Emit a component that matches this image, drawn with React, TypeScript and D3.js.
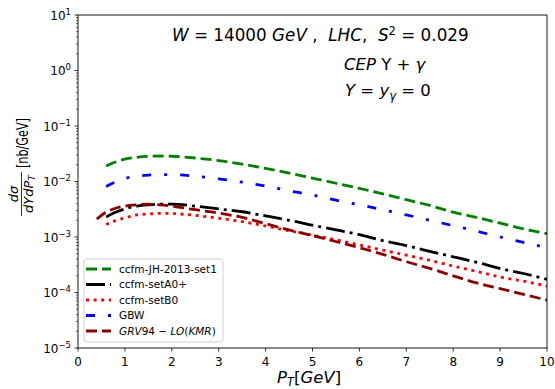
import React from "react";
import * as d3 from "d3";

const W = 555;
const H = 389;
const FONT = "DejaVu Sans, sans-serif";

// Data (P_T in GeV, dσ/dYdP_T in nb/GeV)
const ptMain = [0.6, 0.8, 1.0, 1.25, 1.5, 1.75, 2.0, 2.5, 3, 3.5, 4, 4.5, 5, 5.5, 6, 6.5, 7, 7.5, 8, 8.5, 9, 9.5, 10];
const ptGrv = [0.4, 0.6, 0.8, 1.0, 1.25, 1.5, 1.75, 2.0, 2.5, 3, 3.5, 4, 4.5, 5, 5.5, 6, 6.5, 7, 7.5, 8, 8.5, 9, 9.5, 10];

const jhSet1 = [0.019, 0.0225, 0.0252, 0.0273, 0.0285, 0.0288, 0.0285, 0.0265, 0.0238, 0.0205, 0.0172, 0.0142, 0.0115, 0.0093, 0.0075, 0.006, 0.0047, 0.0037, 0.0028, 0.00225, 0.00178, 0.0014, 0.00115];
const setA0 = [0.0023, 0.0028, 0.0032, 0.0036, 0.0038, 0.0039, 0.0039, 0.0036, 0.0032, 0.00285, 0.0024, 0.002, 0.00163, 0.00135, 0.0011, 0.00086, 0.0007, 0.00055, 0.00044, 0.00035, 0.00027, 0.00022, 0.000172];
const setB0 = [0.00168, 0.00197, 0.0022, 0.0025, 0.0026, 0.00267, 0.00265, 0.00245, 0.00218, 0.00189, 0.00158, 0.0013, 0.00108, 0.00089, 0.00072, 0.00058, 0.00047, 0.00038, 0.0003, 0.00024, 0.00019, 0.00016, 0.00013];
const gbw = [0.0081, 0.0098, 0.0113, 0.0124, 0.013, 0.0133, 0.0133, 0.0125, 0.0112, 0.0097, 0.0083, 0.0068, 0.0057, 0.0046, 0.0038, 0.0031, 0.0025, 0.002, 0.0016, 0.00127, 0.001, 0.0008, 0.00064];
const grv94 = [0.0021, 0.0028, 0.0033, 0.0036, 0.0038, 0.0039, 0.0038, 0.0036, 0.0031, 0.0027, 0.00225, 0.00174, 0.00134, 0.00106, 0.00083, 0.00064, 0.000487, 0.000359, 0.000272, 0.0002, 0.000149, 0.000117, 0.0000925, 0.000073];

const xTicks = [0, 1, 2, 3, 4, 5, 6, 7, 8, 9, 10];
const yExps = [-5, -4, -3, -2, -1, 0, 1];

const series = [
  { key: "jh", x: ptMain, y: jhSet1, color: "#008000", dash: "11,5" },
  { key: "a0", x: ptMain, y: setA0, color: "#000000", dash: "19,5,3,5" },
  { key: "b0", x: ptMain, y: setB0, color: "#ff0000", dash: "3,4.6" },
  { key: "gbw", x: ptMain, y: gbw, color: "#0000ff", dash: "9,13,3,13" },
  { key: "grv", x: ptGrv, y: grv94, color: "#8b0000", dash: "11,5" },
];

const left = 78, right = 547, top = 15, bottom = 348;

export default function App() {
  const x = d3.scaleLinear().domain([0, 10]).range([left, right]);
  const y = d3.scaleLog().domain([1e-5, 10]).range([bottom, top]);
  const line = d3
    .line<[number, number]>()
    .x((d) => x(d[0]))
    .y((d) => y(d[1]))
    .curve(d3.curveMonotoneX);

  const minor: number[] = [];
  for (let e = -5; e < 1; e++) for (let m = 2; m <= 9; m++) minor.push(m * Math.pow(10, e));

  const legendRows = [
    { s: series[0], label: <tspan>ccfm-JH-2013-set1</tspan> },
    { s: series[1], label: <tspan>ccfm-setA0+</tspan> },
    { s: series[2], label: <tspan>ccfm-setB0</tspan> },
    { s: series[3], label: <tspan>GBW</tspan> },
    {
      s: series[4],
      label: (
        <>
          <tspan fontStyle="italic">GRV</tspan>
          <tspan>94 − </tspan>
          <tspan fontStyle="italic">LO</tspan>
          <tspan>(</tspan>
          <tspan fontStyle="italic">KMR</tspan>
          <tspan>)</tspan>
        </>
      ),
    },
  ];

  return (
    <svg width={W} height={H} style={{ position: "absolute", left: 0, top: 0, background: "#fff" }} fontFamily={FONT}>
      <rect x={0} y={0} width={W} height={H} fill="#fff" />
      <defs>
        <clipPath id="plotclip">
          <rect x={left} y={top} width={right - left} height={bottom - top} />
        </clipPath>
      </defs>

      {/* curves */}
      <g clipPath="url(#plotclip)">
        {series.map((s) => (
          <path
            key={s.key}
            d={line(s.x.map((v, i) => [v, s.y[i]] as [number, number])) || ""}
            fill="none"
            stroke={s.color}
            strokeWidth={2.8}
            strokeDasharray={s.dash}
          />
        ))}
      </g>

      {/* frame */}
      <rect x={left} y={top} width={right - left} height={bottom - top} fill="none" stroke="#000" strokeWidth={0.9} />

      {/* x ticks */}
      {xTicks.map((t) => (
        <g key={"xt" + t}>
          <line x1={x(t)} x2={x(t)} y1={bottom} y2={bottom + 3.5} stroke="#000" strokeWidth={0.8} />
          <text x={x(t)} y={bottom + 18} textAnchor="middle" fontSize={12}>
            {t}
          </text>
        </g>
      ))}

      {/* y ticks */}
      {yExps.map((e) => (
        <g key={"yt" + e}>
          <line x1={left - 3.5} x2={left} y1={y(Math.pow(10, e))} y2={y(Math.pow(10, e))} stroke="#000" strokeWidth={0.8} />
          <text x={left - 7} y={y(Math.pow(10, e)) + 4.5} textAnchor="end" fontSize={12}>
            <tspan>10</tspan>
            <tspan dy={-5} fontSize={8.5}>
              {e < 0 ? "−" + Math.abs(e) : String(e)}
            </tspan>
          </text>
        </g>
      ))}
      {minor.map((v, i) => (
        <line key={"ym" + i} x1={left - 2} x2={left} y1={y(v)} y2={y(v)} stroke="#000" strokeWidth={0.6} />
      ))}

      {/* axis labels */}
      <text x={277} y={383} fontSize={16.5} style={{ whiteSpace: "pre" }}>
        <tspan fontStyle="italic">P</tspan>
        <tspan fontStyle="italic" fontSize={11.5} dy={2.8}>T</tspan>
        <tspan dy={-2.8}>[</tspan>
        <tspan fontStyle="italic">GeV</tspan>
        <tspan>]</tspan>
      </text>

      <text transform="translate(28,118) rotate(-90)" textAnchor="end" fontSize={15} textLength={50} lengthAdjust="spacingAndGlyphs">
        [nb/GeV]
      </text>
      <text transform="translate(17.5,194) rotate(-90)" textAnchor="middle" fontSize={13} fontStyle="italic">
        dσ
      </text>
      <line x1={21.5} x2={21.5} y1={172} y2={216} stroke="#000" strokeWidth={0.8} />
      <text transform="translate(32.5,194) rotate(-90)" textAnchor="middle" fontSize={13} fontStyle="italic">
        <tspan>dYdP</tspan>
        <tspan fontSize={9} dy={2.8}>T</tspan>
      </text>

      {/* annotations */}
      <text x={172} y={41} fontSize={16.8} style={{ whiteSpace: "pre" }}>
        <tspan fontStyle="italic">W</tspan>
        <tspan> = 14000 </tspan>
        <tspan fontStyle="italic">GeV</tspan>
        <tspan> ,  </tspan>
        <tspan fontStyle="italic">LHC</tspan>
        <tspan>,  </tspan>
        <tspan fontStyle="italic">S</tspan>
        <tspan fontSize={11.5} dy={-6.5}>2</tspan>
        <tspan dy={6.5}> = 0.029</tspan>
      </text>
      <text x={344} y={70} fontSize={16.5} style={{ whiteSpace: "pre" }}>
        <tspan fontStyle="italic">CEP</tspan>
        <tspan> Υ + </tspan>
        <tspan fontStyle="italic">γ</tspan>
      </text>
      <text x={345} y={96} fontSize={16.5} style={{ whiteSpace: "pre" }}>
        <tspan fontStyle="italic">Y</tspan>
        <tspan> = </tspan>
        <tspan fontStyle="italic">y</tspan>
        <tspan fontStyle="italic" fontSize={11.5} dy={3.5}>γ</tspan>
        <tspan dy={-3.5}> = 0</tspan>
      </text>

      {/* legend */}
      <rect x={84} y={259} width={139} height={83} rx={3} fill="#fff" fillOpacity={0.8} stroke="#cccccc" strokeWidth={0.9} />
      {legendRows.map((r, i) => {
        const ly = 269 + i * 15.5;
        return (
          <g key={"lg" + i}>
            <line x1={86} x2={111} y1={ly} y2={ly} stroke={r.s.color} strokeWidth={2.8} strokeDasharray={r.s.dash} />
            <text x={119} y={ly + 3.8} fontSize={10.5} style={{ whiteSpace: "pre" }}>
              {r.label}
            </text>
          </g>
        );
      })}
    </svg>
  );
}
